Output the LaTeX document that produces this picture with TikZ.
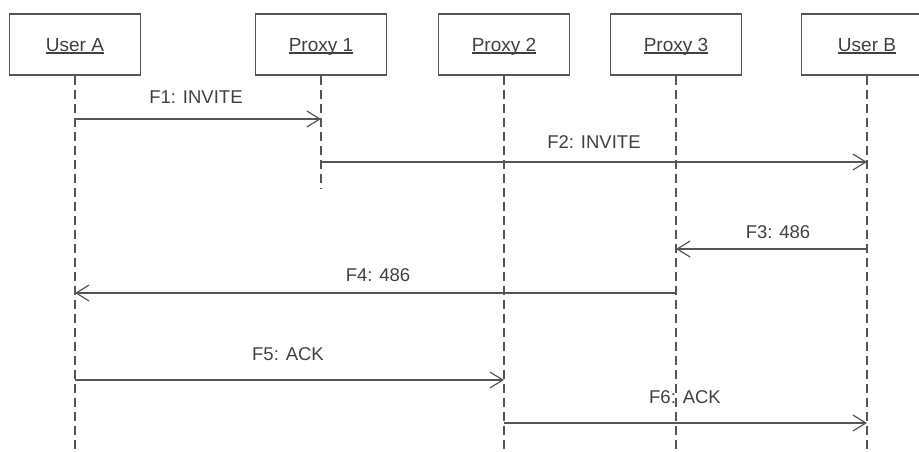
\documentclass[tikz,border=0pt]{standalone}
\usepackage{fontspec}
\setmainfont{Liberation Sans}
\usetikzlibrary{arrows.meta}
\definecolor{ln}{HTML}{555555}
\definecolor{tx}{HTML}{404040}
\newcommand\ulbl[1]{\setbox0\hbox{#1}\rlap{\rule[-2.4pt]{\wd0}{1.2pt}}\box0}
\begin{document}
\begin{tikzpicture}[x=1pt,y=-1pt,
  box/.style={draw=ln,line width=1.2pt,fill=white,minimum width=131pt,minimum height=61pt,inner sep=0pt,text=tx,font=\fontsize{19}{22}\selectfont,text height=13.6pt,text depth=0pt},
  life/.style={draw=ln,line width=1.2pt,dash pattern=on 9pt off 5pt},
  msg/.style={draw=ln,line width=1.2pt,-{Straight Barb[length=13pt,width=16pt,line width=1.2pt]}},
  lbl/.style={text=tx,font=\fontsize{18.5}{22}\selectfont,anchor=base,inner sep=0pt}]
\useasboundingbox (0,0) rectangle (919,452);
\clip (0,0) rectangle (919,452);
% participants
\node[box] (A) at (75,44.5) {\ulbl{User A}};
\node[box] (P1) at (321,44.5) {\ulbl{Proxy 1}};
\node[box] (P2) at (504,44.5) {\ulbl{Proxy 2}};
\node[box] (P3) at (676,44.5) {\ulbl{Proxy 3}};
\node[box] (B) at (867,44.5) {\ulbl{User B}};
% lifeline ends
\coordinate (Ae) at (75,452);
\coordinate (P1e) at (321,188);
\coordinate (P2e) at (504,452);
\coordinate (P3e) at (676,452);
\coordinate (Be) at (867,452);
\draw[life] (A.south) -- (Ae);
\draw[life] (P1.south) -- (P1e);
\draw[life] (P2.south) -- (P2e);
\draw[life] (P3.south) -- (P3e);
\draw[life] (B.south) -- (Be);
% message levels
\coordinate (y1) at (0,119);
\coordinate (y2) at (0,162);
\coordinate (y3) at (0,249);
\coordinate (y4) at (0,293);
\coordinate (y5) at (0,380);
\coordinate (y6) at (0,423);
\draw[msg] (A |- y1) -- (P1 |- y1);
\draw[msg] (P1 |- y2) -- (B |- y2);
\draw[msg] (B |- y3) -- (P3 |- y3);
\draw[msg] (P3 |- y4) -- (A |- y4);
\draw[msg] (A |- y5) -- (P2 |- y5);
\draw[msg] (P2 |- y6) -- (B |- y6);
% labels
\node[lbl] (l1) at (196,103) {F1: INVITE};
\node[lbl] (l2) at (594,148) {F2: INVITE};
\node[lbl] (l3) at (778,238) {F3: 486};
\node[lbl] (l4) at (378,281) {F4: 486};
\node[lbl] (l5) at (288,360) {F5: ACK};
\node[lbl] (l6) at (685,403) {F6: ACK};
\end{tikzpicture}
\end{document}
